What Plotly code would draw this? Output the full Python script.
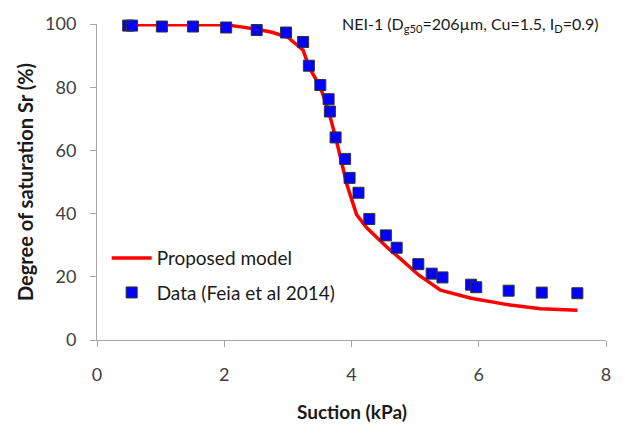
import plotly.graph_objects as go

# Data (Feia et al 2014)
data_suction = [0.49, 0.55, 1.02, 1.51, 2.03, 2.51, 2.97, 3.24, 3.33, 3.51, 3.64, 3.66,
                3.75, 3.90, 3.97, 4.11, 4.28, 4.54, 4.71, 5.05, 5.26, 5.43, 5.88, 5.96,
                6.47, 6.99, 7.55]
data_sr = [99.5, 99.5, 99.2, 99.2, 98.9, 98.1, 97.3, 94.3, 86.8, 80.7, 76.2, 72.3,
           64.1, 57.3, 51.3, 46.6, 38.3, 33.1, 29.2, 24.0, 21.0, 19.8, 17.5, 16.7,
           15.6, 15.0, 14.8]

# Proposed model
model_suction = [0.5, 1.0, 1.5, 2.0, 2.5, 2.75, 3.0, 3.24, 3.33, 3.51, 3.64, 3.77,
                 3.93, 4.08, 4.24, 4.45, 4.55, 4.78, 5.06, 5.4, 5.88, 6.45, 6.97, 7.55]
model_sr = [99.8, 99.8, 99.8, 99.8, 98.4, 97.4, 95.8, 91.7, 86.5, 80.0, 72.5, 62.5,
            49.0, 39.7, 35.5, 31.5, 29.5, 25.5, 20.5, 15.8, 13.2, 11.2, 9.9, 9.4]

x_ticks = [0, 2, 4, 6, 8]
y_ticks = [0, 20, 40, 60, 80, 100]

FONT = "Lato"
AXIS_COLOR = "#a6a6a6"

fig = go.Figure()
fig.add_trace(go.Scatter(
    x=model_suction, y=model_sr, mode="lines", name="Proposed model",
    line=dict(color="#ff0000", width=3.5), cliponaxis=False, legend="legend",
))
fig.add_trace(go.Scatter(
    x=data_suction, y=data_sr, mode="markers", name="Data (Feia et al 2014)",
    marker=dict(symbol="square", size=11, color="#0000ff",
                line=dict(color="#333333", width=1)),
    cliponaxis=False, legend="legend2",
))

legend_common = dict(xanchor="left", yanchor="middle", bgcolor="rgba(0,0,0,0)",
                     font=dict(family=FONT, size=19, color="#1a1a1a"), itemwidth=40)

fig.update_layout(
    width=630, height=428,
    margin=dict(l=97, r=24, t=20, b=88),
    plot_bgcolor="white", paper_bgcolor="white",
    font=dict(family=FONT, size=18, color="#404040"),
    showlegend=True,
    legend=dict(x=0.019, y=0.259, **legend_common),
    legend2=dict(x=0.019, y=0.15, **legend_common),
    xaxis=dict(range=[0, 8], tickvals=x_ticks, showgrid=False, zeroline=False,
               showline=True, linecolor=AXIS_COLOR, linewidth=1,
               ticks="outside", ticklen=6, tickcolor=AXIS_COLOR,
               ticklabelstandoff=12, automargin=False,
               tickfont=dict(size=18, color="#404040")),
    yaxis=dict(range=[0, 100], tickvals=y_ticks, showgrid=False, zeroline=False,
               showline=True, linecolor=AXIS_COLOR, linewidth=1,
               ticks="outside", ticklen=6, tickcolor=AXIS_COLOR,
               ticklabelstandoff=10,
               tickfont=dict(size=18, color="#404040"),
               title=dict(text="<b>Degree of saturation Sr (%)</b>",
                          font=dict(size=20, color="#1a1a1a"), standoff=6)),
    annotations=[
        dict(text="NEI-1 (D<sub>g50</sub>=206µm, Cu=1.5, I<sub>D</sub>=0.9)",
             xref="paper", yref="paper", x=0.99, y=1.0, xanchor="right", yanchor="middle",
             showarrow=False, font=dict(size=16, color="#1a1a1a")),
        dict(text="<b>Suction (kPa)</b>", xref="paper", yref="paper",
             x=0.5, y=-0.225, xanchor="center", yanchor="middle",
             showarrow=False, font=dict(size=19, color="#1a1a1a")),
    ],
)

fig.write_html("out.html")
